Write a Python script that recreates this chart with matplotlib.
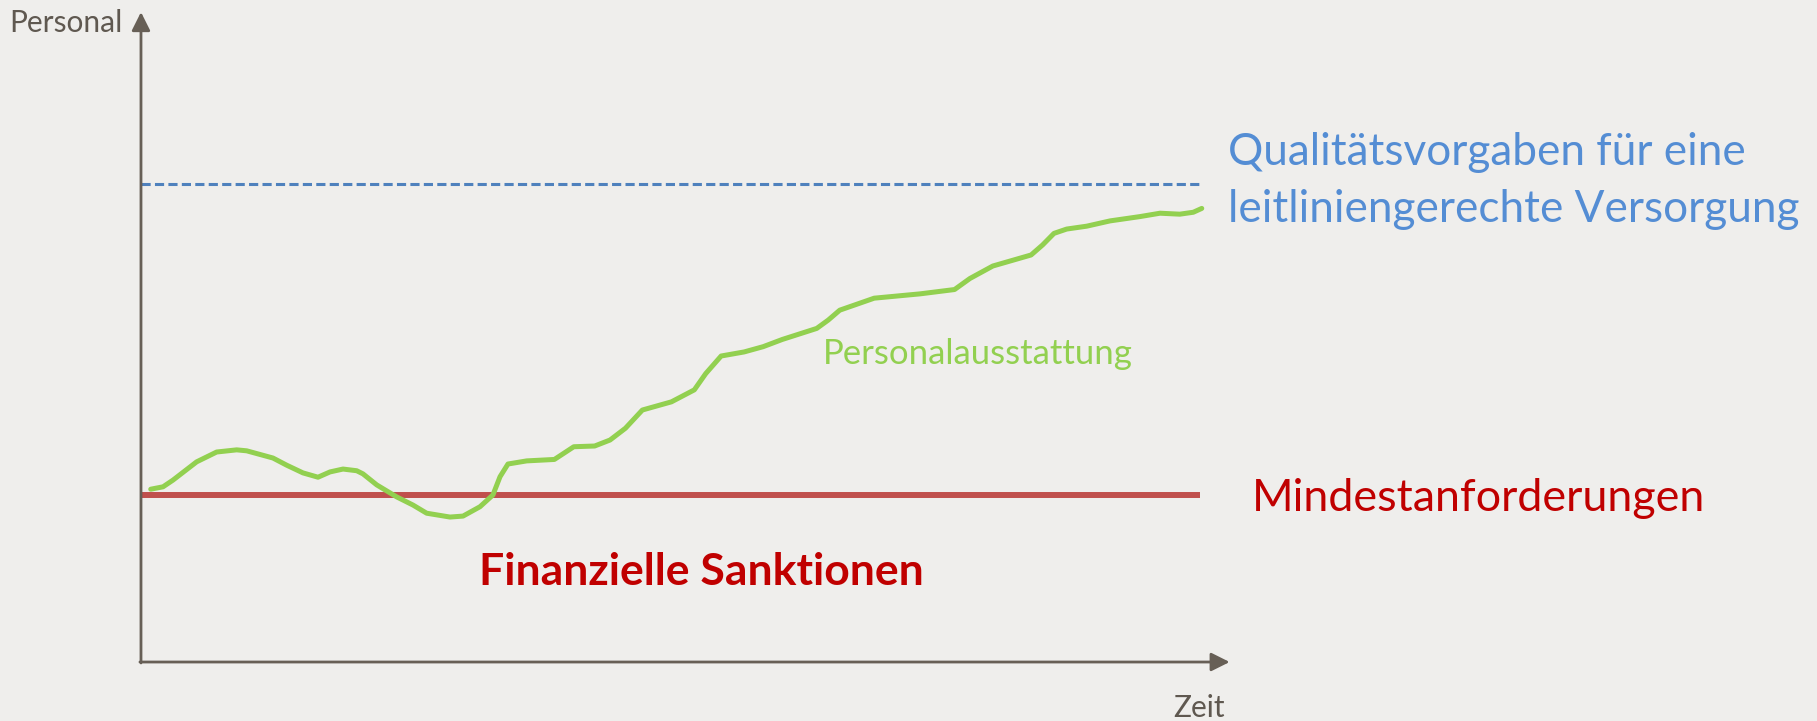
import matplotlib
matplotlib.use("Agg")
import matplotlib.pyplot as plt

plt.rcParams['font.family'] = ['Lato', 'DejaVu Sans']

# Zeit (0..100) und Personal (0 = Achse, 100 = Qualitaetsvorgabe)
zeit = [0.92, 2.08, 3.02, 5.25, 7.14, 9.03, 9.97, 12.45, 13.75, 15.28,
        16.7, 17.83, 19.06, 20.35, 20.94, 22.24, 24.12, 25.66, 26.95, 29.15,
        30.38, 31.98, 33.2, 33.87, 34.62, 36.39, 39.0, 40.83, 42.8, 44.25,
        45.7, 47.3, 50.04, 52.2, 53.28, 54.73, 56.9, 58.7, 60.5, 63.75,
        64.84, 65.92, 69.17, 73.5, 76.75, 78.2, 80.36, 83.97, 85.06, 86.13,
        87.33, 89.22, 91.42, 94.25, 96.13, 98.0, 99.27, 100.07]
personal = [36.0, 36.5, 37.9, 41.7, 43.75, 44.2, 44.0, 42.5, 41.0, 39.4,
            38.5, 39.6, 40.2, 39.85, 39.2, 36.9, 34.4, 32.7, 31.0, 30.2,
            30.4, 32.35, 34.8, 38.6, 41.25, 41.9, 42.2, 44.85, 45.0, 46.25,
            48.7, 52.5, 54.2, 56.7, 60.1, 63.75, 64.6, 65.7, 67.2, 69.5,
            71.25, 73.3, 75.8, 76.7, 77.6, 79.9, 82.5, 84.8, 86.9, 89.3,
            90.2, 90.8, 91.9, 92.8, 93.5, 93.3, 93.7, 94.5]

mindest = 34.8
qualitaet = 99.6
zeit_ende = 99.9

bg = '#efeeec'
achse = '#675f56'

fig = plt.figure(figsize=(18.17, 7.21), dpi=100, facecolor=bg)
ax = fig.add_axes([0, 0, 1, 1])
ax.set_facecolor(bg)
ax.axis('off')
ax.set_xlim(-13.30, 158.11)
ax.set_ylim(-12.29, 137.92)

# Achsen mit Pfeilen
ax.annotate('', xy=(0, 135.4), xytext=(0, -0.2),
            arrowprops=dict(arrowstyle='-|>', mutation_scale=28, lw=2, color=achse,
                            shrinkA=0, shrinkB=0))
ax.annotate('', xy=(102.7, 0), xytext=(-0.1, 0),
            arrowprops=dict(arrowstyle='-|>', mutation_scale=28, lw=2, color=achse,
                            shrinkA=0, shrinkB=0))
ax.text(-12.45, 131.25, 'Personal', fontsize=21.5, color='#5f5850', va='baseline')
ax.text(97.4, -11.46, 'Zeit', fontsize=21.5, color='#5f5850', va='baseline')

# Linien
ax.plot([0, zeit_ende], [qualitaet, qualitaet], color='#4f81bd', lw=2.2,
        dashes=(3, 1.4))
ax.plot([0, zeit_ende], [mindest, mindest], color='#c0504d', lw=4.3,
        solid_capstyle='butt')
ax.plot(zeit, personal, color='#92d050', lw=3.6, solid_capstyle='round',
        solid_joinstyle='round')

# Beschriftungen
ax.text(102.55, 103.5, 'Qualitätsvorgaben für eine', fontsize=31.8,
        color='#548dd4', va='baseline')
ax.text(102.55, 91.7, 'leitliniengerechte Versorgung', fontsize=31.8,
        color='#548dd4', va='baseline')
ax.text(104.8, 31.5, 'Mindestanforderungen', fontsize=32.3,
        color='#c00000', va='baseline')
ax.text(31.9, 16.0, 'Finanzielle Sanktionen', fontsize=32,
        color='#c00000', fontweight='bold', va='baseline')
ax.text(64.34, 62.08, 'Personalausstattung', fontsize=25,
        color='#92d050', va='baseline')

fig.savefig('out.png', dpi=100, facecolor=bg)
